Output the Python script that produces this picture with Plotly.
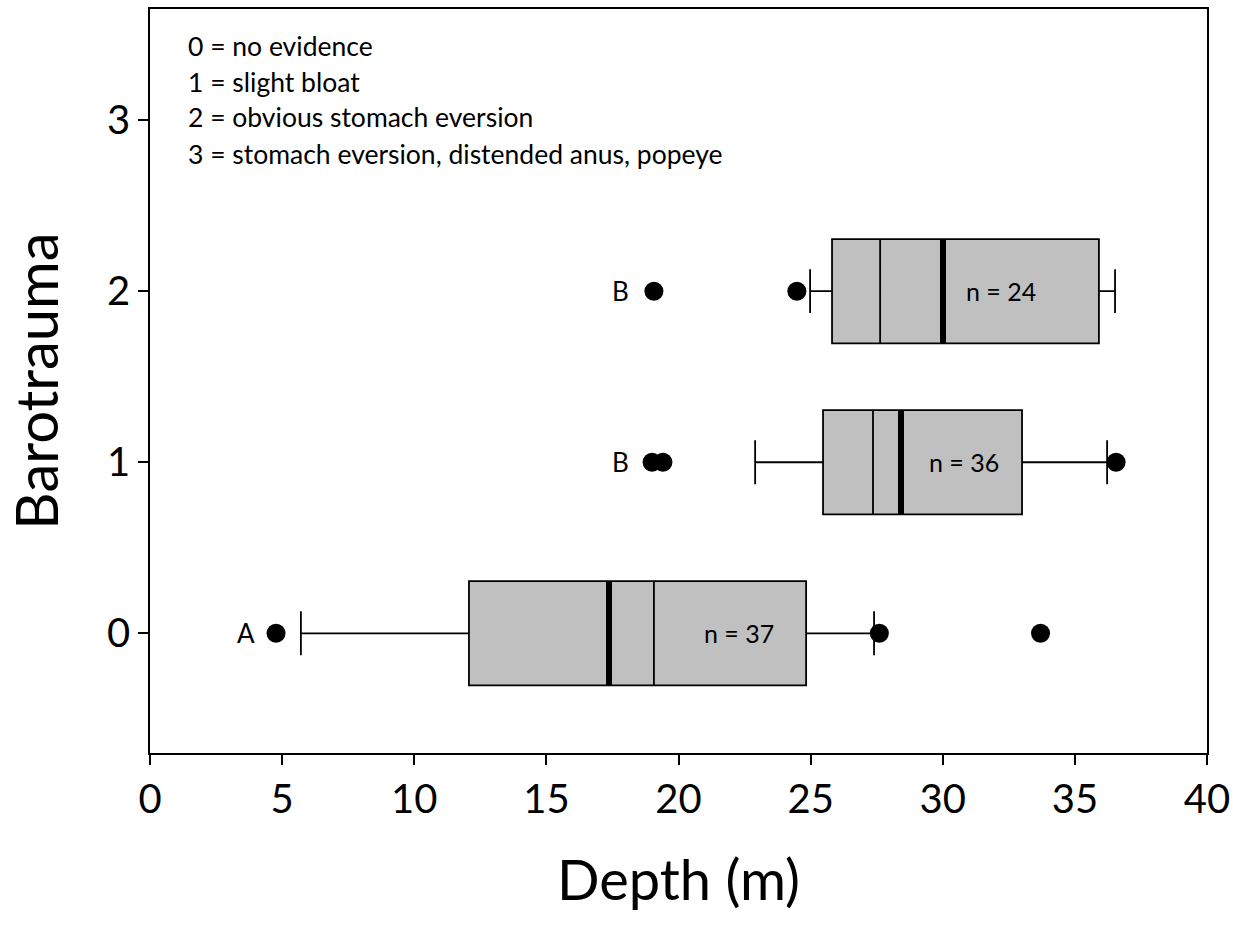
import plotly.graph_objects as go

# Data (depth in m)
categories = [0, 1, 2]
q1 = [12.07, 25.47, 25.81]
median = [19.07, 27.36, 27.63]
q3 = [24.83, 33.00, 35.91]
lowerfence = [5.71, 22.90, 24.98]
upperfence = [27.40, 36.22, 36.52]
means = [17.37, 28.42, 30.01]
n_labels = ["n = 37", "n = 36", "n = 24"]
n_label_x = [22.3, 30.8, 32.2]
outlier_x = [4.77, 27.60, 33.70, 19.00, 19.41, 36.56, 19.07, 24.48]
outlier_y = [0, 0, 0, 1, 1, 1, 2, 2]
group_letters = ["A", "B", "B"]
group_letter_x = [3.65, 17.8, 17.8]
legend_lines = ["0 = no evidence", "1 = slight bloat", "2 = obvious stomach eversion",
                "3 = stomach eversion, distended anus, popeye"]
x_ticks = [0, 5, 10, 15, 20, 25, 30, 35, 40]
y_ticks = [0, 1, 2, 3]

FONT = "Lato"
box_w = 0.61

fig = go.Figure()
for i, c in enumerate(categories):
    fig.add_trace(go.Box(
        orientation="h", y=[c], q1=[q1[i]], median=[median[i]], q3=[q3[i]],
        lowerfence=[lowerfence[i]], upperfence=[upperfence[i]],
        width=box_w, whiskerwidth=0.42, boxpoints=False,
        fillcolor="#C0C0C0", line=dict(color="black", width=1.8),
        showlegend=False, hoverinfo="skip"))
    fig.add_trace(go.Scatter(
        x=[means[i], means[i]], y=[c - box_w / 2, c + box_w / 2], mode="lines",
        line=dict(color="black", width=6), showlegend=False, hoverinfo="skip"))

fig.add_trace(go.Scatter(x=outlier_x, y=outlier_y, mode="markers",
                         marker=dict(color="black", size=19),
                         showlegend=False, hoverinfo="skip"))

for i, c in enumerate(categories):
    fig.add_annotation(x=n_label_x[i], y=c, text=n_labels[i], showarrow=False,
                       font=dict(family=FONT, size=25, color="black"))
    fig.add_annotation(x=group_letter_x[i], y=c, text=group_letters[i], showarrow=False,
                       font=dict(family=FONT, size=26, color="black"))

plot_top, plot_bottom, plot_left, plot_right = 9, 753, 150, 1207
legend_px_y = [46, 82, 117, 154]
for k, line in enumerate(legend_lines):
    fig.add_annotation(x=(186 - plot_left) / (plot_right - plot_left),
                       y=(plot_bottom - legend_px_y[k]) / (plot_bottom - plot_top),
                       xref="paper", yref="paper", text=line,
                       showarrow=False, xanchor="left", yanchor="middle",
                       font=dict(family=FONT, size=26.5, color="black"))

fig.update_layout(
    width=1233, height=939,
    margin=dict(l=plot_left, r=1233 - plot_right, t=plot_top, b=939 - plot_bottom),
    paper_bgcolor="white", plot_bgcolor="white",
    font=dict(family=FONT, color="black"),
    xaxis=dict(range=[0, 40], tickvals=x_ticks, ticks="outside", ticklen=10, tickwidth=1.5,
               tickcolor="black", showline=True, linecolor="black", linewidth=1.8,
               mirror=True, showgrid=False, zeroline=False, automargin=False,
               tickfont=dict(size=40, family=FONT),
               title=dict(text="Depth (m)", font=dict(size=56, family=FONT), standoff=40)),
    yaxis=dict(range=[-0.70, 3.65], tickvals=y_ticks, ticks="outside", ticklen=10, tickwidth=1.5,
               tickcolor="black", showline=True, linecolor="black", linewidth=1.8,
               mirror=True, showgrid=False, zeroline=False, automargin=False,
               tickfont=dict(size=40, family=FONT),
               title=dict(text="Barotrauma", font=dict(size=58, family=FONT), standoff=30)),
)

fig.write_html("out.html")
